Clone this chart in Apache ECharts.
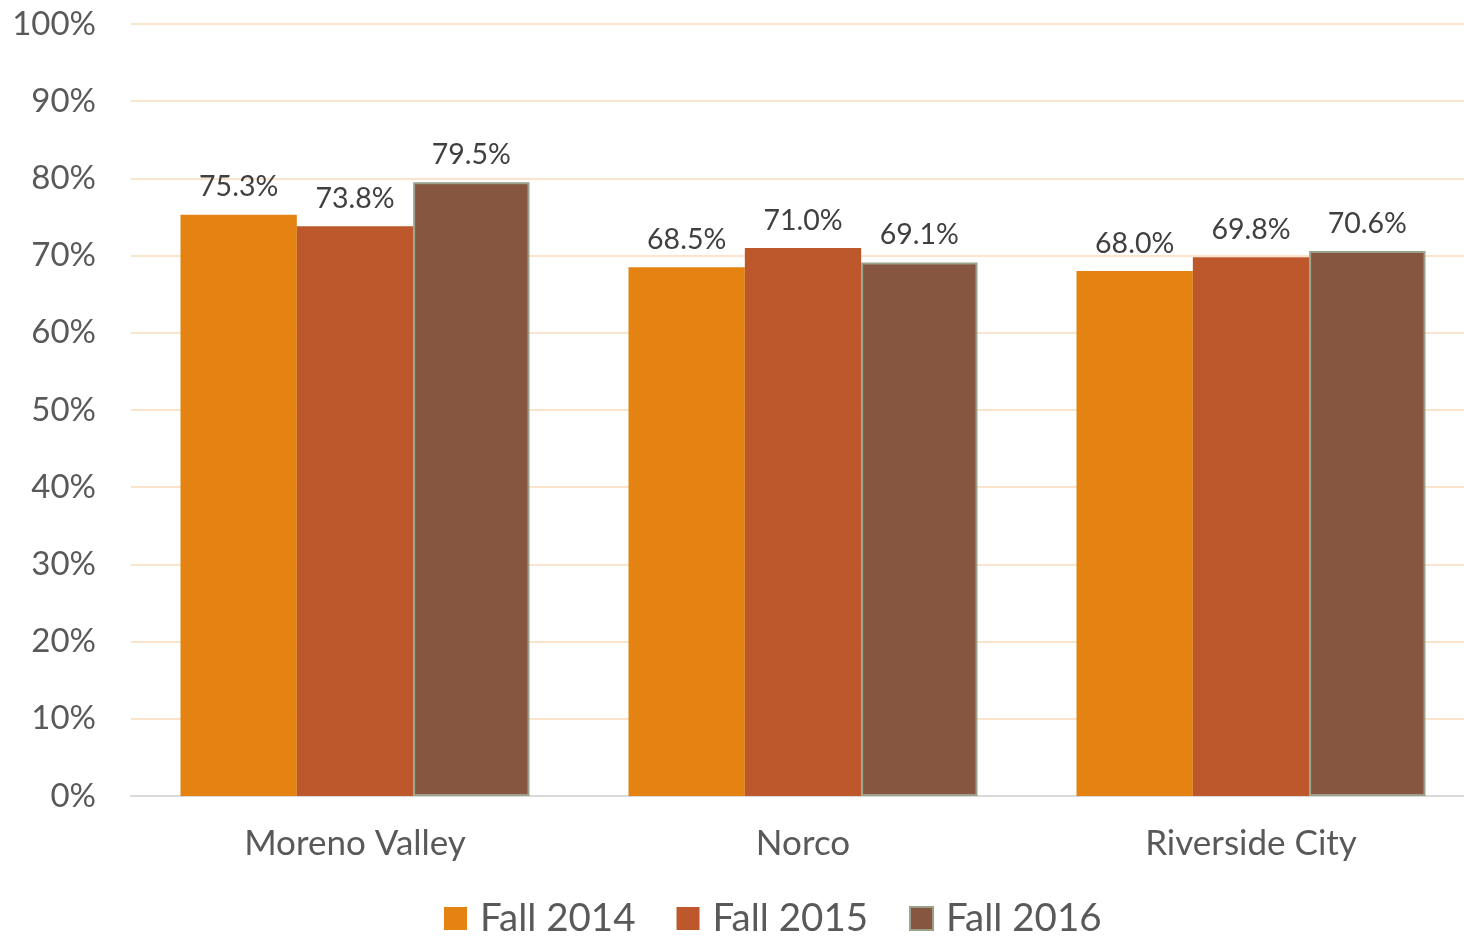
<!DOCTYPE html>
<html><head><meta charset="utf-8">
<script src="https://cdn.jsdelivr.net/npm/echarts@6/dist/echarts.min.js"></script>
<style>html,body{margin:0;padding:0;background:#fff}#c{width:1464px;height:937px}</style>
</head><body><div id="c"></div>
<script>
var categories = ['Moreno Valley', 'Norco', 'Riverside City'];
var seriesNames = ['Fall 2014', 'Fall 2015', 'Fall 2016'];
var fall2014 = [75.3, 68.5, 68.0];
var fall2015 = [73.8, 71.0, 69.8];
var fall2016 = [79.5, 69.1, 70.6];
var colors = ['#E48312', '#BD582C', '#865640'];
var font = 'Lato, "Open Sans", sans-serif';
var chart = echarts.init(document.getElementById('c'));
function mk(name, data, i) {
  return {
    name: name, type: 'bar', data: data,
    barGap: '0%', barCategoryGap: '22.1%',
    itemStyle: { color: colors[i], borderColor: i === 2 ? '#9BA08A' : colors[i], borderWidth: i === 2 ? 2 : 0 },
    label: { show: true, position: 'top', distance: 13, formatter: function(p){ return p.value.toFixed(1) + '%'; },
      fontFamily: font, fontSize: 28.5, color: '#404040' }
  };
}
chart.setOption({
  animation: false,
  grid: { left: 131, width: 1344, top: 24, bottom: 141, outerBoundsMode: 'none', containLabel: false },
  legend: { bottom: -6, left: 439, itemWidth: 23, itemHeight: 23, itemGap: 41, icon: 'rect',
    textStyle: { fontFamily: font, fontSize: 38.5, color: '#595959', padding: [0, 0, 0, 8] }, data: seriesNames },
  xAxis: { type: 'category', data: categories,
    axisLine: { lineStyle: { color: '#D9D9D9', width: 2 } }, axisTick: { show: false },
    axisLabel: { fontFamily: font, fontSize: 35, color: '#595959', margin: 30 } },
  yAxis: { type: 'value', min: 0, max: 100, interval: 10,
    axisLabel: { formatter: '{value}%', fontFamily: font, fontSize: 33, color: '#595959', margin: 35 },
    splitLine: { lineStyle: { color: '#FBE3CC', width: 2 } }, axisLine: { show: false }, axisTick: { show: false } },
  series: [mk(seriesNames[0], fall2014, 0), mk(seriesNames[1], fall2015, 1), mk(seriesNames[2], fall2016, 2)]
});
</script></body></html>
